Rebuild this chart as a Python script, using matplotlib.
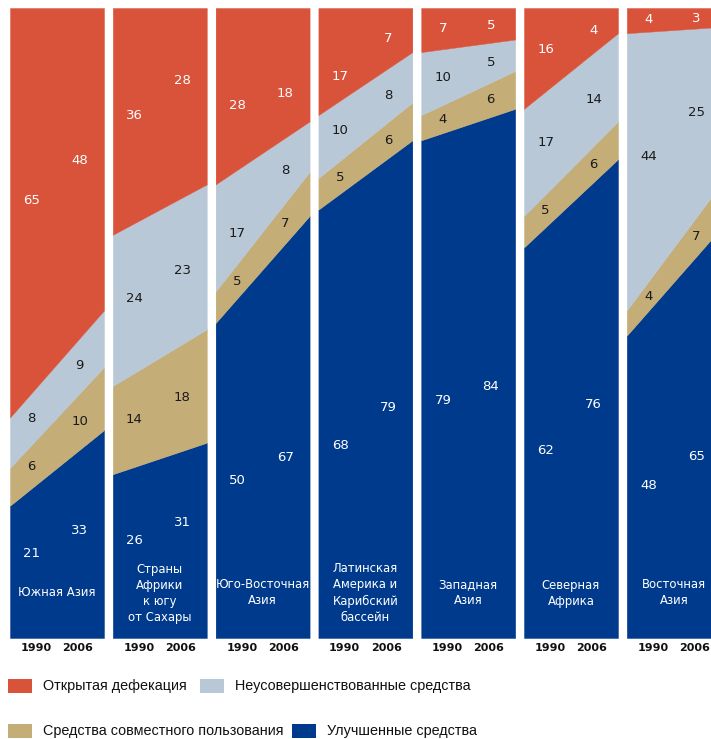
import matplotlib
matplotlib.use("Agg")
import matplotlib.pyplot as plt
from matplotlib.patches import Rectangle
import numpy as np

# data: percent of population, values for [1990, 2006]
regions = ['Южная Азия',
           'Страны\nАфрики\nк югу\nот Сахары',
           'Юго-Восточная\nАзия',
           'Латинская\nАмерика и\nКарибский\nбассейн',
           'Западная\nАзия',
           'Северная\nАфрика',
           'Восточная\nАзия']
years = ['1990', '2006']
improved = [[21, 33], [26, 31], [50, 67], [68, 79], [79, 84], [62, 76], [48, 65]]
shared = [[6, 10], [14, 18], [5, 7], [5, 6], [4, 6], [5, 6], [4, 7]]
unimproved = [[8, 9], [24, 23], [17, 8], [10, 8], [10, 5], [17, 14], [44, 25]]
open_def = [[65, 48], [36, 28], [28, 18], [17, 7], [7, 5], [16, 4], [4, 3]]

legend_labels = ['Открытая дефекация', 'Неусовершенствованные средства',
                 'Средства совместного пользования', 'Улучшенные средства']

RED = '#D9533A'
GREY = '#B9C8D7'
TAN = '#C4AD77'
BLUE = '#003A8C'

# small manual shifts of some value labels (panel, layer, year) -> dy
nudge = {(0, 0, 1): -1.1, (1, 0, 1): 1.0, (2, 0, 1): -3.2, (3, 0, 0): -1.6,
         (4, 0, 0): 1.1, (4, 0, 1): 1.4, (5, 0, 1): 1.6, (6, 0, 1): -2.2,
         (0, 3, 1): 2.0, (1, 3, 1): 3.5, (2, 3, 0): -2.7, (2, 3, 1): -3.3,
         (3, 3, 0): -3.5, (2, 2, 0): -2.7, (6, 2, 1): 1.7}

W, H = 711, 739
fig = plt.figure(figsize=(W / 100, H / 100), dpi=100)
fig.patch.set_facecolor('white')

x = np.array([0.0, 1.0])
lab_x = [0.23, 0.74]   # where the value labels sit inside a panel
year_x = [0.28, 0.72]

for i in range(len(regions)):
    left = 10 + i * 102.8
    ax = fig.add_axes([left / W, 1 - 638 / H, 94 / W, 630 / H])
    ax.set_xlim(0, 1)
    ax.set_ylim(0, 100)
    ax.axis('off')

    layers = [(improved[i], BLUE, 'white'),
              (shared[i], TAN, '#1a1a1a'),
              (unimproved[i], GREY, '#1a1a1a'),
              (open_def[i], RED, 'white')]
    base = np.zeros(2)
    for k, (vals, col, tcol) in enumerate(layers):
        top = base + np.array(vals, dtype=float)
        ax.fill_between(x, base, top, facecolor=col, edgecolor=col, lw=0.3)
        for j in range(2):
            xx = lab_x[j]
            b = np.interp(xx, x, base)
            t = np.interp(xx, x, top)
            if k == 0:
                yy = 0.4 * vals[j] + 5
            else:
                yy = (b + t) / 2
            yy += nudge.get((i, k, j), 0)
            ax.text(xx, yy, str(vals[j]), color=tcol, fontsize=9.5,
                    ha='center', va='center')
        base = top

    ax.text(0.5, (638 - 593) / 6.3, regions[i], color='white', fontsize=8.4,
            ha='center', va='center', linespacing=1.3)
    for j in range(2):
        ax.text(year_x[j], -1.6, years[j], fontsize=8, fontweight='bold',
                ha='center', va='center', color='#111111')

# legend drawn by hand to keep the flowing layout of the original
legend_colors = [RED, GREY, TAN, BLUE]
legend_pos = [(8, 686), (200, 686), (8, 731), (292, 731)]
for lab, col, (px, py) in zip(legend_labels, legend_colors, legend_pos):
    fig.add_artist(Rectangle((px / W, 1 - (py + 7) / H), 24 / W, 14 / H,
                             transform=fig.transFigure, facecolor=col,
                             edgecolor='none'))
    fig.text((px + 35) / W, 1 - py / H, lab, fontsize=10.4, color='#111111',
             ha='left', va='center', family='Liberation Sans')

fig.savefig('out.png', dpi=100)
